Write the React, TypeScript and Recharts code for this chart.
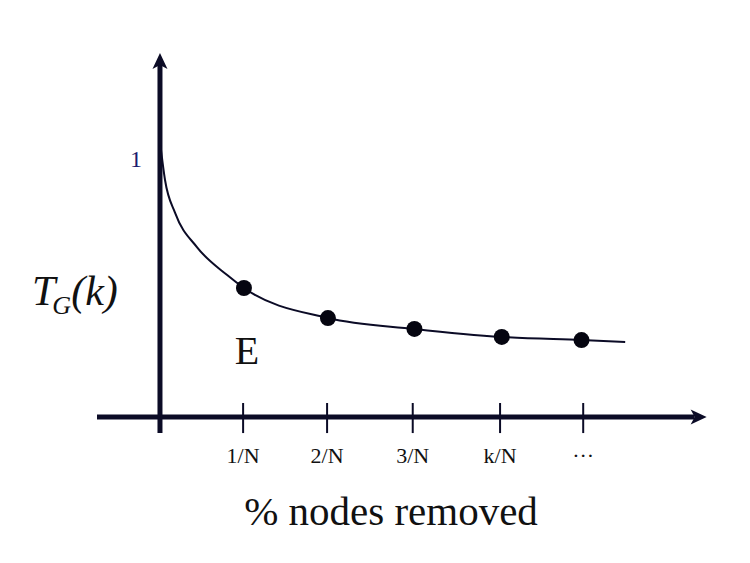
import { ComposedChart, Line, Scatter, XAxis, YAxis, ReferenceLine } from 'recharts';

// curve (x in units of 1/N, y relative to 1)
const curveX = [0.005, 0.06, 0.18, 0.44, 0.8, 1, 2, 3.03, 4.07, 5.02, 5.54];
const curveY = [1.05, 0.915, 0.788, 0.656, 0.548, 0.498, 0.382, 0.34, 0.309, 0.297, 0.29];

// highlighted points
const pointX = [1, 2, 3.03, 4.07, 5.02];
const pointY = [0.498, 0.382, 0.34, 0.309, 0.297];

// x tick positions and labels
const tickX = [0.99, 1.99, 3.01, 4.05, 5.04];
const tickLabels = ['1/N', '2/N', '3/N', 'k/N', '···'];

const xDomain = [-0.75, 6.55];
const yDomain = [-0.0695, 1.4015];

const curveData = curveX.map((x, i) => ({ x, y: curveY[i] }));
const pointData = pointX.map((x, i) => ({ x, y: pointY[i] }));

const INK = '#0b0b26';
const SERIF = '"Liberation Serif", "Times New Roman", serif';

function ArrowLine(p: any) {
  const { x1, y1, x2, y2 } = p;
  const a = Math.atan2(y2 - y1, x2 - x1);
  const c = Math.cos(a);
  const s = Math.sin(a);
  const L = 16, W = 7.5, notch = 4;
  const bx = x2 - L * c, by = y2 - L * s;
  const nx = x2 - (L - notch) * c, ny = y2 - (L - notch) * s;
  const pts = [
    [x2, y2],
    [bx - W * s, by + W * c],
    [nx, ny],
    [bx + W * s, by - W * c],
  ].map((q) => q.join(',')).join(' ');
  return (
    <g>
      <line x1={x1} y1={y1} x2={nx} y2={ny} stroke={INK} strokeWidth={5} />
      <polygon points={pts} fill={INK} />
    </g>
  );
}

export default function App() {
  return (
    <div style={{ position: 'absolute', left: 0, top: 0, width: 750, height: 563, background: '#fff' }}>
      <ComposedChart width={750} height={563} margin={{ top: 54, right: 40, bottom: 98, left: 97 }}>
        <XAxis
          type="number"
          dataKey="x"
          domain={xDomain}
          allowDataOverflow
          ticks={tickX}
          tickFormatter={(v: number) => tickLabels[tickX.indexOf(v)] ?? ''}
          axisLine={false}
          tickLine={false}
          tickSize={0}
          tickMargin={12}
          interval={0}
          tick={{ fill: '#111', fontSize: 22, fontFamily: SERIF }}
        />
        <YAxis
          type="number"
          dataKey="y"
          domain={yDomain}
          allowDataOverflow
          ticks={[1]}
          mirror
          axisLine={false}
          tickLine={false}
          tickSize={0}
          tickMargin={33}
          tick={{ fill: '#1c1c6e', fontSize: 24, fontFamily: SERIF }}
        />
        {tickX.map((x) => (
          <ReferenceLine
            key={x}
            segment={[{ x, y: 0.054 }, { x, y: -0.062 }]}
            stroke={INK}
            strokeWidth={2}
            ifOverflow="visible"
          />
        ))}
        <ReferenceLine
          segment={[{ x: -0.75, y: 0 }, { x: 6.51, y: 0 }]}
          ifOverflow="visible"
          shape={ArrowLine}
        />
        <ReferenceLine
          segment={[{ x: 0, y: -0.062 }, { x: 0, y: 1.405 }]}
          ifOverflow="visible"
          shape={ArrowLine}
        />
        <Line
          data={curveData}
          dataKey="y"
          type="monotone"
          stroke={INK}
          strokeWidth={2}
          dot={false}
          activeDot={false}
          isAnimationActive={false}
        />
        <Scatter
          data={pointData}
          dataKey="y"
          fill="#050510"
          shape={(p: any) => <circle cx={p.cx} cy={p.cy} r={8} fill="#050510" />}
          isAnimationActive={false}
        />
        <text x={32} y={305} fontFamily={SERIF} fontStyle="italic" fontSize={42} fill="#111">
          T
          <tspan fontSize={26} dx={-3} dy={9}>G</tspan>
          <tspan fontSize={42} dy={-9}>(k)</tspan>
        </text>
        <text x={247} y={364} textAnchor="middle" fontFamily={SERIF} fontSize={40} fill="#111">
          E
        </text>
        <text x={391} y={525} textAnchor="middle" fontFamily={SERIF} fontSize={41} fill="#111">
          % nodes removed
        </text>
      </ComposedChart>
    </div>
  );
}
